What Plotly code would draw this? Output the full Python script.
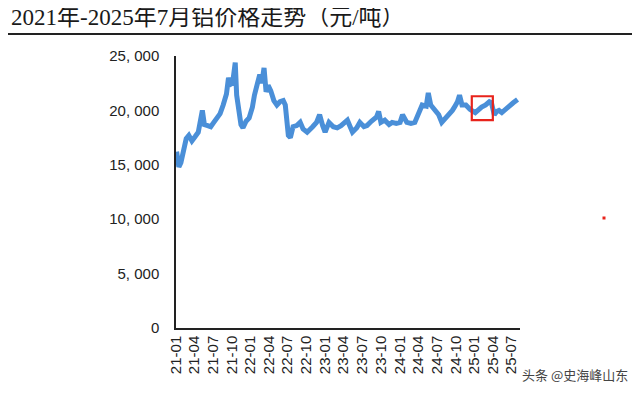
import plotly.graph_objects as go

# ---- data ----
dates = [
    "2021-01-04", "2021-01-10", "2021-01-15", "2021-01-25", "2021-02-10", "2021-02-20",
    "2021-03-05", "2021-03-20", "2021-04-05", "2021-04-20", "2021-05-10", "2021-05-20",
    "2021-06-05", "2021-06-20", "2021-07-05", "2021-07-20", "2021-08-05", "2021-08-20",
    "2021-09-05", "2021-09-15", "2021-09-25", "2021-10-05", "2021-10-18", "2021-10-25",
    "2021-11-05", "2021-11-15", "2021-11-25", "2021-12-10", "2021-12-25", "2022-01-10",
    "2022-01-20", "2022-02-05", "2022-02-15", "2022-02-25", "2022-03-08", "2022-03-18",
    "2022-03-28", "2022-04-10", "2022-04-25", "2022-05-10", "2022-05-25", "2022-06-10",
    "2022-06-20", "2022-07-05", "2022-07-15", "2022-07-28", "2022-08-15", "2022-09-01",
    "2022-09-15", "2022-10-05", "2022-10-20", "2022-11-01", "2022-11-20", "2022-12-05",
    "2022-12-20", "2023-01-01", "2023-01-20", "2023-02-10", "2023-03-01", "2023-03-20",
    "2023-04-20", "2023-05-15", "2023-06-05", "2023-06-20", "2023-07-10", "2023-07-25",
    "2023-08-15", "2023-09-10", "2023-09-20", "2023-10-01", "2023-10-20", "2023-11-10",
    "2023-11-25", "2023-12-15", "2024-01-03", "2024-01-15", "2024-02-05", "2024-02-25",
    "2024-03-15", "2024-04-05", "2024-04-20", "2024-05-10", "2024-05-20", "2024-06-01",
    "2024-06-20", "2024-07-10", "2024-07-25", "2024-08-05", "2024-08-25", "2024-09-15",
    "2024-09-25", "2024-10-10", "2024-10-20", "2024-11-01", "2024-11-20", "2024-12-10",
    "2025-01-05", "2025-01-15", "2025-02-05", "2025-02-25", "2025-03-15", "2025-03-25",
    "2025-04-08", "2025-04-20", "2025-05-01", "2025-05-15", "2025-06-01", "2025-06-20",
    "2025-07-10", "2025-07-31",
]
prices = [
    16200, 15600, 14800, 15200, 16600, 17400,
    17700, 17200, 17600, 18000, 20000, 18700,
    18600, 18500, 18900, 19300, 19700, 20500,
    21500, 23000, 22400, 22500, 24400, 21400,
    19500, 18700, 18400, 19000, 19300, 20300,
    21400, 22400, 23300, 22500, 23900, 21700,
    22300, 21800, 20900, 20500, 20800, 20900,
    20500, 17700, 17500, 18500, 18600, 18900,
    18300, 18000, 18200, 18500, 18900, 19600,
    18600, 18000, 18900, 18500, 18400, 18600,
    19100, 18000, 18400, 18900, 18500, 18600,
    19000, 19400, 19900, 18900, 19100, 18700,
    18900, 18800, 18900, 19600, 18900, 18800,
    18900, 19900, 20500, 20400, 21600, 20500,
    20000, 19600, 18900, 19100, 19600, 20000,
    20300, 20800, 21400, 20500, 20500, 20100,
    19800, 20000, 20300, 20500, 20800, 20700,
    19600, 19900, 20000, 19800, 20100, 20500,
    20700, 21000,
]

x_tick_vals = [
    "2021-01-01", "2021-04-01", "2021-07-01", "2021-10-01",
    "2022-01-01", "2022-04-01", "2022-07-01", "2022-10-01",
    "2023-01-01", "2023-04-01", "2023-07-01", "2023-10-01",
    "2024-01-01", "2024-04-01", "2024-07-01", "2024-10-01",
    "2025-01-01", "2025-04-01", "2025-07-01",
]
x_tick_text = [
    "21-01", "21-04", "21-07", "21-10", "22-01", "22-04", "22-07", "22-10",
    "23-01", "23-04", "23-07", "23-10", "24-01", "24-04", "24-07", "24-10",
    "25-01", "25-04", "25-07",
]
y_tick_vals = [0, 5000, 10000, 15000, 20000, 25000]
y_tick_text = ["0", "5, 000", "10, 000", "15, 000", "20, 000", "25, 000"]

title_text = "2021年-2025年7月铝价格走势（元/吨）"
highlight_x = ["2024-12-19", "2025-04-01"]
highlight_y = [19100, 21300]

# the page body adds an 8px offset; margins compensate so the plot lands at
# screen x 176..520, y 56..328
OFF = 8
PL, PR, PT, PB = 176, 520, 56, 328
W, H = PR - PL, PB - PT


def px(x):
    return (x - PL) / W


def py(y):
    return (PB - y) / H


fig = go.Figure()
fig.add_trace(go.Scatter(
    x=dates, y=prices, mode="lines",
    line=dict(color="#4A8FD8", width=5),
    showlegend=False, hoverinfo="skip",
))

# red highlight box
fig.add_shape(type="rect", xref="x", yref="y",
              x0=highlight_x[0], x1=highlight_x[1], y0=highlight_y[0], y1=highlight_y[1],
              line=dict(color="#E8231B", width=2.2), fillcolor="rgba(0,0,0,0)")

# small red dot on the right
fig.add_shape(type="rect", xref="paper", yref="paper",
              x0=px(602.5), x1=px(605.5), y0=py(219.5), y1=py(216.5),
              line=dict(width=0), fillcolor="#E8231B")

# title rule line
fig.add_shape(type="line", xref="paper", yref="paper",
              x0=px(0), x1=px(638), y0=py(34), y1=py(34),
              line=dict(color="#222222", width=2))

fig.add_annotation(
    text=title_text, xref="paper", yref="paper",
    x=px(9), y=py(17), xanchor="left", yanchor="middle",
    showarrow=False,
    font=dict(family="Liberation Serif, Noto Sans CJK SC", size=23, color="#1a1a1a"),
)

fig.add_annotation(
    text="头条 @史海峰山东", xref="paper", yref="paper",
    x=px(520), y=py(374), xanchor="left", yanchor="middle",
    showarrow=False,
    font=dict(family="Noto Sans CJK SC", size=13, color="#444444"),
)

fig.update_layout(
    width=640, height=395,
    margin=dict(l=PL - OFF, r=640 - (PR - OFF), t=PT - OFF, b=395 - (PB - OFF)),
    paper_bgcolor="white", plot_bgcolor="white",
    font=dict(family="Liberation Sans, Arial", color="#222222"),
    xaxis=dict(
        type="date", range=["2021-01-01", "2025-08-12"],
        tickmode="array", tickvals=x_tick_vals, ticktext=x_tick_text,
        tickangle=-90, tickfont=dict(size=15, family="Liberation Sans"),
        showgrid=False, zeroline=False,
        showline=True, linecolor="#222222", linewidth=1.5,
        ticks="", ticklen=0, automargin=False,
    ),
    yaxis=dict(
        range=[0, 25000],
        tickmode="array", tickvals=y_tick_vals, ticktext=y_tick_text,
        tickfont=dict(size=15, family="Liberation Sans"),
        showgrid=False, zeroline=False,
        showline=True, linecolor="#222222", linewidth=1.5,
        ticks="", ticklen=0, ticklabelstandoff=12, automargin=False,
    ),
)

fig.write_html("out.html")
